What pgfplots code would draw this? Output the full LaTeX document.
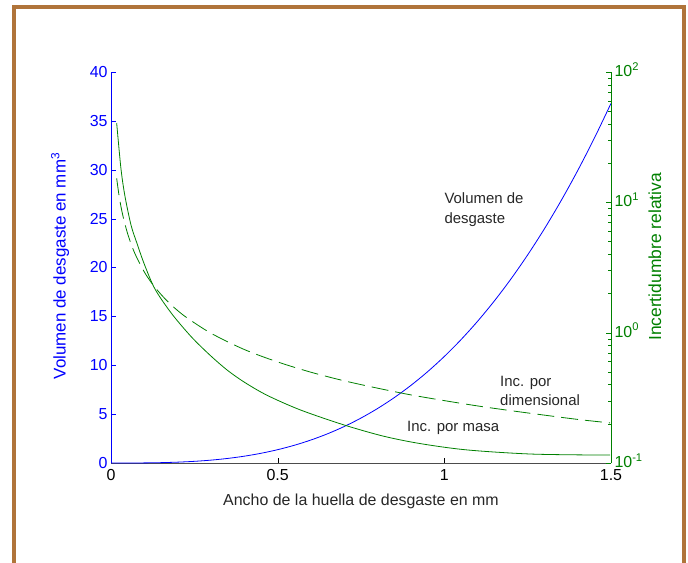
\documentclass[border=0pt]{standalone}
\usepackage{fontspec}
\setmainfont{Liberation Sans}
\usepackage{pgfplots}
\pgfplotsset{compat=1.18}
\definecolor{mgreen}{RGB}{0,128,0}
\definecolor{framebrown}{RGB}{176,116,58}
\begin{document}
\begin{tikzpicture}
\path[use as bounding box] (0,0) rectangle (688bp,563bp);
\draw[framebrown, line width=4bp, line join=miter] (14bp,-4bp) -- (14bp,556bp) -- (684bp,556bp) -- (684bp,-4bp);
\begin{axis}[
  at={(111bp,100bp)}, anchor=south west,
  width=500bp, height=391bp, scale only axis,
  xmin=0, xmax=1.5, ymin=0, ymax=40,
  axis x line*=bottom, axis y line*=left,
  tick align=inside, major tick length=5bp,
  xtick={0,0.5,1,1.5}, xticklabels={0,0.5,1,1.5},
  ytick={0,5,10,15,20,25,30,35,40},
  x axis line style={black!70},
  y axis line style={blue},
  xtick style={black}, ytick style={blue},
  yticklabel style={blue},
  ticklabel style={font=\fontsize{16}{19}\selectfont},
  xticklabel style={yshift=-3bp},
  /pgf/number format/assume math mode=true,
  xlabel={Ancho de la huella de desgaste en mm},
  ylabel={Volumen de desgaste en mm\textsuperscript{3}},
  xlabel style={font=\fontsize{16}{19}\selectfont, at={(axis description cs:0.5,-0.097)}, anchor=center, black!85},
  ylabel style={font=\fontsize{17}{20}\selectfont, at={(axis description cs:-0.102,0.504)}, anchor=center, blue},
  clip=false,
]
\addplot[blue, line width=0.8bp, smooth] coordinates {
(0,0) (0.05,0.00136) (0.1,0.0109) (0.15,0.0368) (0.2,0.0872) (0.25,0.170)
(0.3,0.294) (0.35,0.467) (0.4,0.698) (0.45,0.993) (0.5,1.363) (0.55,1.813)
(0.6,2.354) (0.65,2.993) (0.7,3.739) (0.75,4.598) (0.8,5.581) (0.85,6.694)
(0.9,7.946) (0.95,9.345) (1.0,10.9) (1.05,12.618) (1.1,14.508) (1.15,16.578)
(1.2,18.835) (1.25,21.289) (1.3,23.947) (1.35,26.818) (1.4,29.910) (1.45,33.231)
(1.5,36.788)};
\node[anchor=west, align=left, inner sep=0pt, black!85, font=\fontsize{15}{20}\selectfont] at (axis cs:1.0,25.9) {Volumen de\\desgaste};
\node[anchor=west, align=left, inner sep=0pt, black!85, font=\fontsize{15}{19}\selectfont] at (axis cs:1.167,7.42) {Inc. por\\dimensional};
\node[anchor=west, align=left, inner sep=0pt, black!85, font=\fontsize{15}{19}\selectfont] at (axis cs:0.888,3.58) {Inc. por masa};
\end{axis}
\begin{axis}[
  at={(111bp,100bp)}, anchor=south west,
  width=500bp, height=391bp, scale only axis,
  xmin=0, xmax=1.5, ymode=log, ymin=0.1, ymax=100,
  axis x line=none, axis y line*=right,
  tick align=inside, major tick length=5bp, minor tick length=3bp,
  ytick={0.1,1,10,100},
  yticklabels={10\textsuperscript{-1},10\textsuperscript{0},10\textsuperscript{1},10\textsuperscript{2}},
  minor ytick={0.2,0.3,0.4,0.5,0.6,0.7,0.8,0.9,2,3,4,5,6,7,8,9,20,30,40,50,60,70,80,90},
  y axis line style={mgreen},
  ytick style={mgreen}, minor y tick style={mgreen},
  yticklabel style={mgreen, font=\fontsize{16}{19}\selectfont, yshift=2.5bp},
  ylabel={Incertidumbre relativa},
  ylabel style={mgreen, font=\fontsize{17.5}{20}\selectfont, at={(axis description cs:1.088,0.527)}, anchor=center},
]
\addplot[mgreen, line width=0.8bp, smooth] coordinates {
(0.017,40.6) (0.03,18.0) (0.042,11.1) (0.06,6.7) (0.077,4.92) (0.1,3.35)
(0.132,2.16) (0.182,1.40) (0.242,0.923) (0.3,0.661) (0.35,0.513) (0.4,0.417)
(0.468,0.331) (0.567,0.256) (0.696,0.197) (0.816,0.161) (0.927,0.141)
(1.068,0.126) (1.266,0.117) (1.497,0.115)};
\addplot[mgreen, line width=0.8bp, smooth, dash pattern=on 17bp off 7bp] coordinates {
(0.017,15.3) (0.025,10.9) (0.035,8.03) (0.05,5.74) (0.07,4.14) (0.1,2.92)
(0.13,2.26) (0.17,1.735) (0.22,1.345) (0.3,0.99) (0.4,0.7425) (0.5,0.596)
(0.6,0.497) (0.7,0.427) (0.8,0.375) (0.9,0.333) (1.0,0.301) (1.1,0.274)
(1.2,0.252) (1.3,0.233) (1.4,0.216) (1.497,0.203)};
\end{axis}
\end{tikzpicture}
\end{document}
